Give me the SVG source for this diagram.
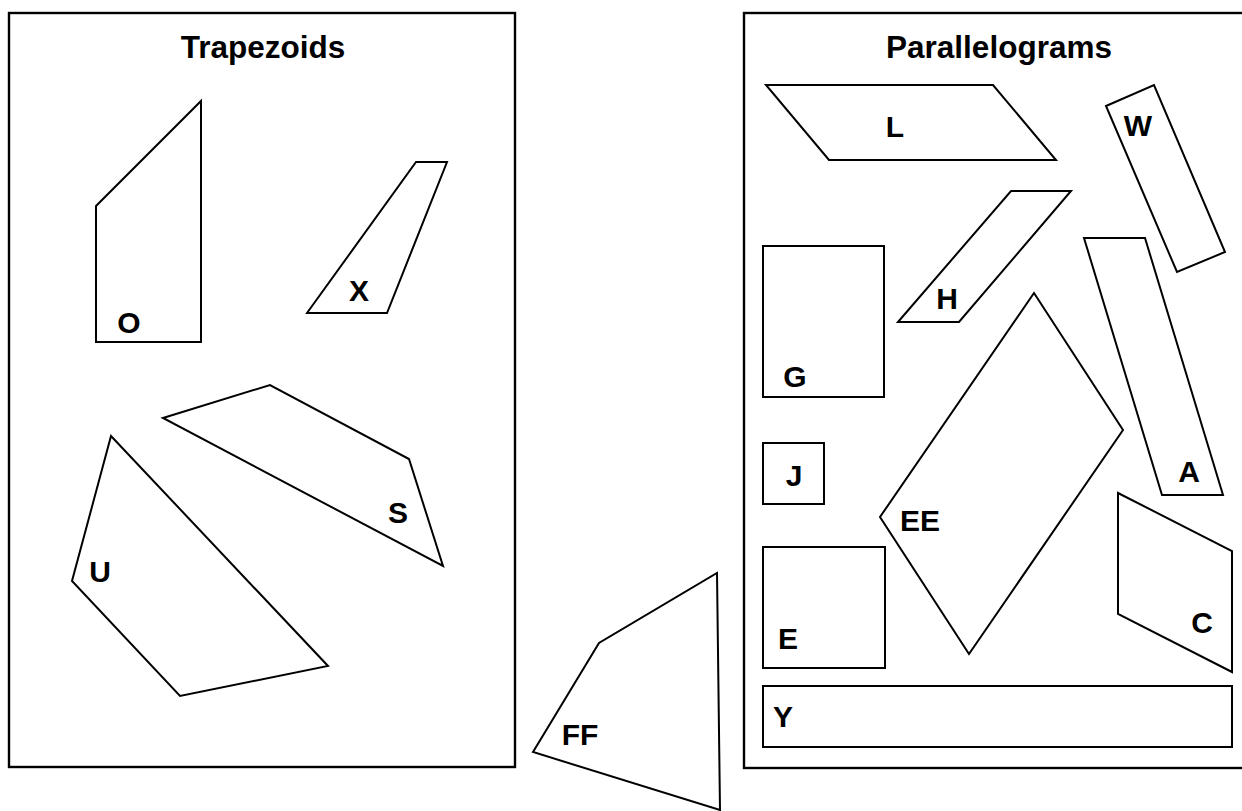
<svg xmlns="http://www.w3.org/2000/svg" width="1242" height="811" viewBox="0 0 1242 811">
<style>
.frame{fill:none;stroke:#000;stroke-width:2.4}
.shape{fill:#fff;stroke:#000;stroke-width:2;stroke-linejoin:miter}
.lbl{font-family:"Liberation Sans",Arial,sans-serif;font-weight:bold;font-size:30px;fill:#000;text-anchor:middle}
.ttl{font-size:31.5px}
</style>
<rect width="1242" height="811" fill="#fff"/>
<g id="trapezoids-frame">
<rect class="frame" x="9" y="13" width="506" height="754"/>
<text class="lbl ttl" x="263" y="58">Trapezoids</text>
</g>
<g id="parallelograms-frame">
<rect class="frame" x="744" y="13" width="502" height="755"/>
<text class="lbl ttl" x="999" y="58">Parallelograms</text>
</g>
<g id="O"><polygon class="shape" points="96,206 201,101 201,342 96,342"/><text class="lbl" x="129" y="333">O</text></g>
<g id="X"><polygon class="shape" points="307,313 416,162 447,162 387,313"/><text class="lbl" x="359" y="301">X</text></g>
<g id="S"><polygon class="shape" points="163,418 270,385 409,459 443,566"/><text class="lbl" x="398" y="523">S</text></g>
<g id="U"><polygon class="shape" points="111,436 328,666 180,696 72,581"/><text class="lbl" x="100" y="582">U</text></g>
<g id="FF"><polygon class="shape" points="533,752 599,643 717,573 720,810"/><text class="lbl" x="580" y="745">FF</text></g>
<g id="L"><polygon class="shape" points="766,85 993,85 1056,160 829,160"/><text class="lbl" x="895" y="137">L</text></g>
<g id="W"><polygon class="shape" points="1106,106 1154,85 1225,252 1177,272"/><text class="lbl" x="1138" y="136">W</text></g>
<g id="H"><polygon class="shape" points="898,322 1011,191 1071,191 959,322"/><text class="lbl" x="947" y="309">H</text></g>
<g id="G"><rect class="shape" x="763" y="246" width="121" height="151"/><text class="lbl" x="795" y="387">G</text></g>
<g id="A"><polygon class="shape" points="1084,238 1145,238 1223,495 1162,495"/><text class="lbl" x="1189" y="482">A</text></g>
<g id="EE"><polygon class="shape" points="1034,293 1123,430 969,654 880,517"/><text class="lbl" x="920" y="531">EE</text></g>
<g id="J"><rect class="shape" x="763" y="443" width="61" height="61"/><text class="lbl" x="794" y="486">J</text></g>
<g id="C"><polygon class="shape" points="1118,493 1232,551 1232,672 1118,614"/><text class="lbl" x="1202" y="633">C</text></g>
<g id="E"><rect class="shape" x="763" y="547" width="122" height="121"/><text class="lbl" x="788" y="649">E</text></g>
<g id="Y"><rect class="shape" x="763" y="686" width="469" height="61"/><text class="lbl" x="783" y="727">Y</text></g>
<g id="connectors"></g>
</svg>
